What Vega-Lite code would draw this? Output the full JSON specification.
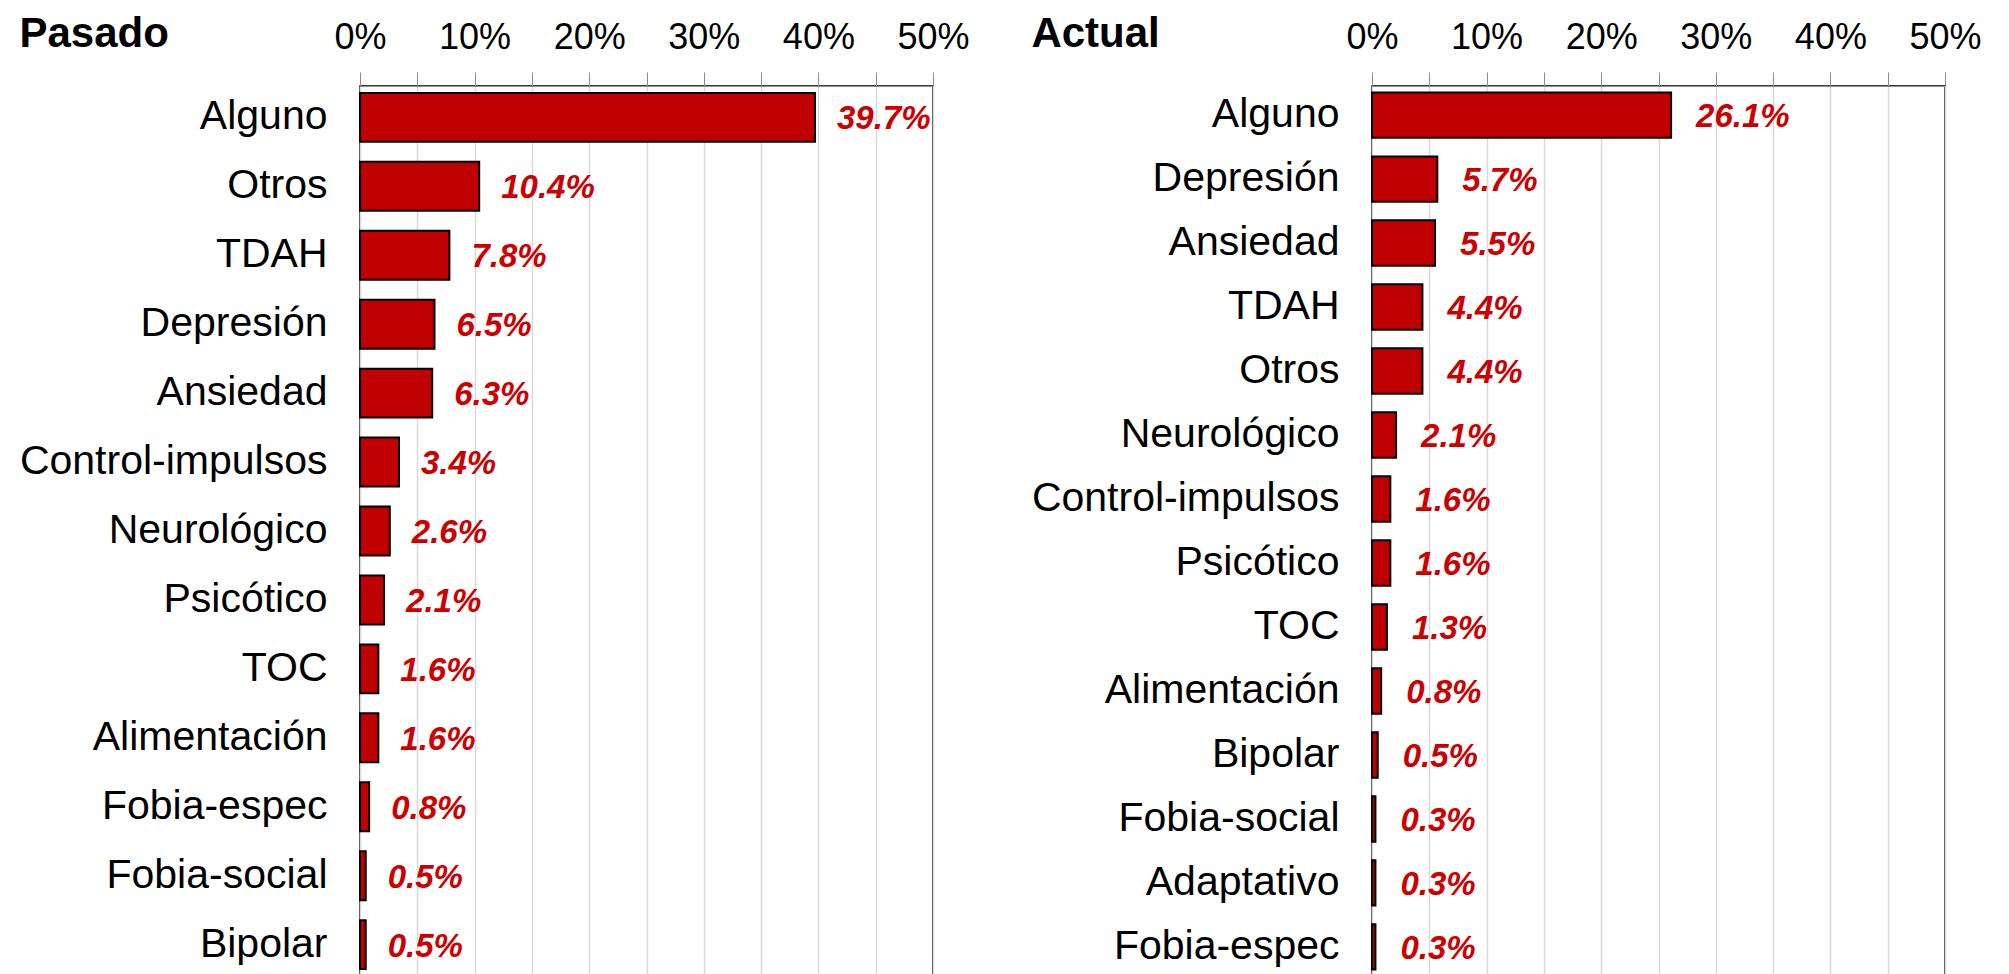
{
  "$schema": "https://vega.github.io/schema/vega-lite/v6.json",
  "padding": {"left": 18, "top": 12, "right": 0, "bottom": 0},
  "background": "white",
  "spacing": 60,
  "config": {
    "font": "Liberation Sans",
    "view": {"stroke": "black", "strokeWidth": 1.5},
    "title": {"anchor": "start", "frame": "bounds", "fontSize": 42, "fontWeight": "bold", "color": "black", "font": "Liberation Sans"},
    "axisX": {
      "orient": "top", "values": [0, 0.1, 0.2, 0.3, 0.4, 0.5], "format": ".0%", "labelFontSize": 36, "labelColor": "black", "labelFlush": false,
      "tickColor": "#8c8c8c", "tickSize": 14, "domainColor": "#8c8c8c", "gridColor": "#d9d9d9", "gridWidth": 1.5,
      "labelPadding": 16, "title": null, "labelFont": "Liberation Sans"
    },
    "axisY": {"ticks": false, "domain": false, "labelFontSize": 41, "labelColor": "black", "labelPadding": 33, "labelLimit": 500, "title": null, "labelFont": "Liberation Sans"}
  },
  "datasets": {
    "rows": [
      {"periodo": "Pasado", "trastorno": "Alguno", "pct": 0.397},
      {"periodo": "Pasado", "trastorno": "Otros", "pct": 0.104},
      {"periodo": "Pasado", "trastorno": "TDAH", "pct": 0.078},
      {"periodo": "Pasado", "trastorno": "Depresión", "pct": 0.065},
      {"periodo": "Pasado", "trastorno": "Ansiedad", "pct": 0.063},
      {"periodo": "Pasado", "trastorno": "Control-impulsos", "pct": 0.034},
      {"periodo": "Pasado", "trastorno": "Neurológico", "pct": 0.026},
      {"periodo": "Pasado", "trastorno": "Psicótico", "pct": 0.021},
      {"periodo": "Pasado", "trastorno": "TOC", "pct": 0.016},
      {"periodo": "Pasado", "trastorno": "Alimentación", "pct": 0.016},
      {"periodo": "Pasado", "trastorno": "Fobia-espec", "pct": 0.008},
      {"periodo": "Pasado", "trastorno": "Fobia-social", "pct": 0.005},
      {"periodo": "Pasado", "trastorno": "Bipolar", "pct": 0.005},
      {"periodo": "Actual", "trastorno": "Alguno", "pct": 0.261},
      {"periodo": "Actual", "trastorno": "Depresión", "pct": 0.057},
      {"periodo": "Actual", "trastorno": "Ansiedad", "pct": 0.055},
      {"periodo": "Actual", "trastorno": "TDAH", "pct": 0.044},
      {"periodo": "Actual", "trastorno": "Otros", "pct": 0.044},
      {"periodo": "Actual", "trastorno": "Neurológico", "pct": 0.021},
      {"periodo": "Actual", "trastorno": "Control-impulsos", "pct": 0.016},
      {"periodo": "Actual", "trastorno": "Psicótico", "pct": 0.016},
      {"periodo": "Actual", "trastorno": "TOC", "pct": 0.013},
      {"periodo": "Actual", "trastorno": "Alimentación", "pct": 0.008},
      {"periodo": "Actual", "trastorno": "Bipolar", "pct": 0.005},
      {"periodo": "Actual", "trastorno": "Fobia-social", "pct": 0.003},
      {"periodo": "Actual", "trastorno": "Adaptativo", "pct": 0.003},
      {"periodo": "Actual", "trastorno": "Fobia-espec", "pct": 0.003}
    ]
  },
  "data": {"name": "rows"},
  "hconcat": [
    {
      "title": {"text": "Pasado", "dy": 41},
      "width": 573,
      "height": 890,
      "transform": [{"filter": "datum.periodo === 'Pasado'"}],
      "encoding": {
        "y": {"field": "trastorno", "type": "nominal", "sort": null, "scale": {"paddingInner": 0.29, "paddingOuter": 0.1}},
        "x": {"field": "pct", "type": "quantitative", "scale": {"domain": [0, 0.5], "nice": false}}
      },
      "layer": [
        {"mark": {"type": "bar", "color": "#c00000", "stroke": "black", "strokeWidth": 2}},
        {"mark": {"type": "text", "align": "left", "baseline": "middle", "dx": 22, "dy": 2, "fontSize": 33, "fontWeight": "bold", "fontStyle": "italic", "color": "#cc0000"},
         "encoding": {"text": {"field": "pct", "type": "quantitative", "format": ".1%"}}}
      ]
    },
    {
      "title": {"text": "Actual", "dy": 41},
      "width": 573,
      "height": 890,
      "transform": [{"filter": "datum.periodo === 'Actual'"}],
      "encoding": {
        "y": {"field": "trastorno", "type": "nominal", "sort": null, "scale": {"paddingInner": 0.29, "paddingOuter": 0.1}},
        "x": {"field": "pct", "type": "quantitative", "scale": {"domain": [0, 0.5], "nice": false}}
      },
      "layer": [
        {"mark": {"type": "bar", "color": "#c00000", "stroke": "black", "strokeWidth": 2}},
        {"mark": {"type": "text", "align": "left", "baseline": "middle", "dx": 25, "dy": 2, "fontSize": 33, "fontWeight": "bold", "fontStyle": "italic", "color": "#cc0000"},
         "encoding": {"text": {"field": "pct", "type": "quantitative", "format": ".1%"}}}
      ]
    }
  ]
}
